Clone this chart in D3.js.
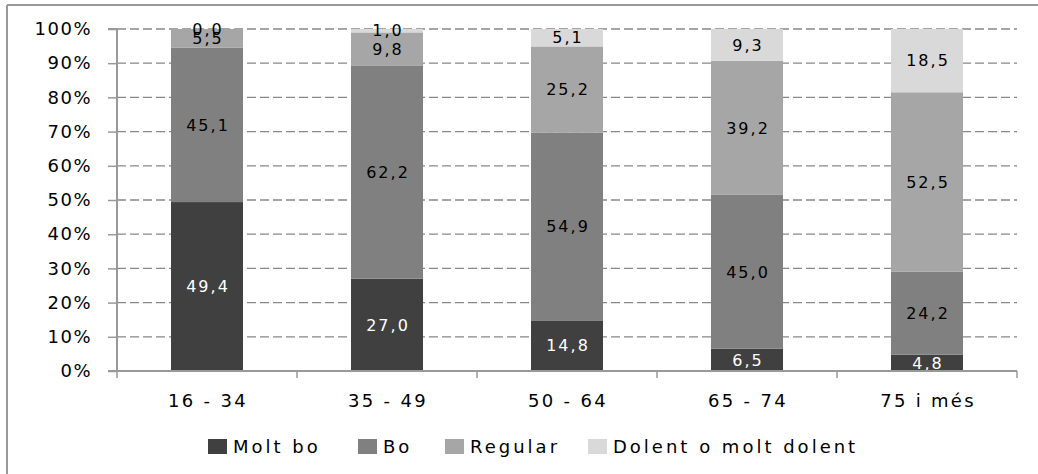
<!DOCTYPE html>
<html><head><meta charset="utf-8">
<script src="https://cdn.jsdelivr.net/npm/d3@7"></script>
<style>body{margin:0;background:#fff;} svg{display:block;}</style>
</head><body>
<svg id="c" width="1038" height="474"></svg>
<script>
const categories = ["16 - 34", "35 - 49", "50 - 64", "65 - 74", "75 i més"];
const seriesNames = ["Molt bo", "Bo", "Regular", "Dolent o molt dolent"];
const legendLabels = ["Molt bo", "Bo", "Regular", "Dolent o molt dolent"];
const moltBo = [49.4, 27.0, 14.8, 6.5, 4.8];
const bo = [45.1, 62.2, 54.9, 45.0, 24.2];
const regular = [5.5, 9.8, 25.2, 39.2, 52.5];
const dolent = [0.0, 1.0, 5.1, 9.3, 18.5];
const yTicks = [0, 10, 20, 30, 40, 50, 60, 70, 80, 90, 100];
const colors = ["#404040", "#808080", "#a6a6a6", "#d9d9d9"];
const labelColors = ["#ffffff", "#000000", "#000000", "#000000"];

const seriesValues = [moltBo, bo, regular, dolent];
const rows = categories.map((c, i) => {
  const r = {cat: c};
  seriesNames.forEach((s, j) => r[s] = seriesValues[j][i]);
  return r;
});
const stacked = d3.stack().keys(seriesNames)(rows);

const svg = d3.select("#c");
const FONT = "DejaVu Sans, Verdana, sans-serif";
const L = 117, R = 1017, T = 29, B = 371;
const x = d3.scaleBand().domain(categories).range([L, R]).paddingInner(0.6).paddingOuter(0.3);
const xb = d3.scaleBand().domain(categories).range([L, R]);
const y = d3.scaleLinear().domain([0, 100]).range([B, T]);

// frame
svg.append("line").attr("x1", 7).attr("x2", 1038).attr("y1", 5).attr("y2", 5).attr("stroke", "#999").attr("stroke-width", 2);
svg.append("line").attr("x1", 7).attr("x2", 7).attr("y1", 5).attr("y2", 474).attr("stroke", "#999").attr("stroke-width", 2);

// gridlines
svg.append("g").selectAll("line").data(yTicks.filter(t => t > 0)).join("line")
  .attr("x1", L).attr("x2", R).attr("y1", d => y(d)).attr("y2", d => y(d))
  .attr("stroke", "#888").attr("stroke-width", 1.3).attr("stroke-dasharray", "9,4");

// bars
const g = svg.append("g");
stacked.forEach((layer, j) => {
  g.append("g").selectAll("rect").data(layer).join("rect")
    .attr("x", d => x(d.data.cat)).attr("width", x.bandwidth())
    .attr("y", d => y(d[1])).attr("height", d => y(d[0]) - y(d[1]))
    .attr("fill", colors[j]);
});
stacked.forEach((layer, j) => {
  g.append("g").selectAll("text").data(layer).join("text")
    .attr("x", d => x(d.data.cat) + x.bandwidth() / 2 + 1)
    .attr("y", d => (y(d[0]) + y(d[1])) / 2)
    .attr("dy", "0.36em")
    .attr("text-anchor", "middle")
    .attr("font-family", FONT).attr("font-size", 16).attr("letter-spacing", 2)
    .attr("fill", labelColors[j])
    .text(d => d3.format(".1f")(d[1] - d[0]).replace(".", ","));
});

// y axis
const yAxis = d3.axisLeft(y).tickValues(yTicks).tickSize(9).tickPadding(16).tickFormat(d => d + "%");
const ya = svg.append("g").attr("transform", `translate(${L},0)`).call(yAxis);
ya.select(".domain").attr("stroke", "#999").attr("stroke-width", 2).attr("d", `M-9,${T}H0V${B}H-9`);
ya.selectAll(".tick line").attr("stroke", "#999").attr("stroke-width", 1.5);
ya.selectAll(".tick text").attr("font-family", FONT).attr("font-size", 18).attr("letter-spacing", 1.5).attr("fill", "#000");

// x axis
const xa = svg.append("g").attr("transform", `translate(0,${B})`);
xa.append("line").attr("x1", L).attr("x2", R).attr("y1", 0).attr("y2", 0).attr("stroke", "#999").attr("stroke-width", 2);
const bounds = categories.map(c => xb(c)).concat([R]);
xa.selectAll("line.t").data(bounds).join("line").attr("class", "t")
  .attr("x1", d => d).attr("x2", d => d).attr("y1", 0).attr("y2", 7).attr("stroke", "#999").attr("stroke-width", 1.5);
xa.selectAll("text").data(categories).join("text")
  .attr("x", d => xb(d) + xb.bandwidth() / 2 + 1).attr("y", 36)
  .attr("text-anchor", "middle").attr("font-family", FONT).attr("font-size", 18).attr("letter-spacing", 2.3)
  .attr("fill", "#000").text(d => d);

// legend
const legendX = [208, 358, 445, 588];
const lg = svg.append("g");
legendLabels.forEach((s, j) => {
  lg.append("rect").attr("x", legendX[j]).attr("y", 439).attr("width", 19).attr("height", 15).attr("fill", colors[j]);
  lg.append("text").attr("x", legendX[j] + 25).attr("y", 453)
    .attr("font-family", FONT).attr("font-size", 18).attr("letter-spacing", 3).attr("fill", "#000").text(s);
});
</script>
</body></html>
